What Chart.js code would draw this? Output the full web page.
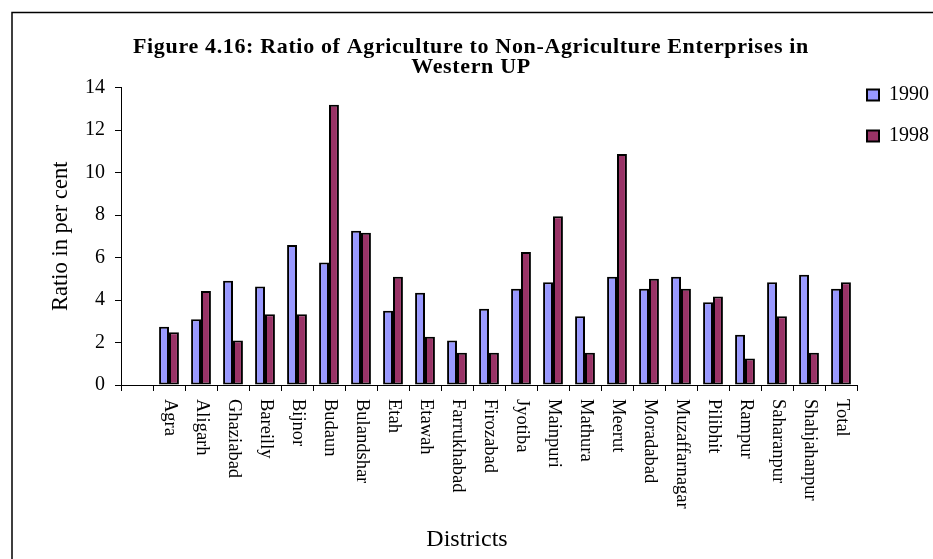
<!DOCTYPE html>
<html>
<head>
<meta charset="utf-8">
<script src="https://cdn.jsdelivr.net/npm/chart.js@4.4.0/dist/chart.umd.min.js"></script>
<style>
  html, body { margin: 0; padding: 0; background: #fff; overflow: hidden; }
  #wrap { position: relative; width: 933px; height: 559px; }
</style>
</head>
<body>
<div id="wrap"><canvas id="c" width="933" height="559"></canvas></div>
<script>
const districts = ['', 'Agra', 'Aligarh', 'Ghaziabad', 'Bareilly', 'Bijnor', 'Budaun', 'Bulandshar', 'Etah', 'Etawah', 'Farrukhabad', 'Firozabad', 'Jyotiba', 'Mainpuri', 'Mathura', 'Meerut', 'Moradabad', 'Muzaffarnagar', 'Pilibhit', 'Rampur', 'Saharanpur', 'Shahjahanpur', 'Total'];
const ratio1990 = [null, 2.74, 3.10, 4.91, 4.64, 6.59, 5.76, 7.26, 3.50, 4.34, 2.09, 3.59, 4.53, 4.83, 3.23, 5.10, 4.53, 5.10, 3.90, 2.37, 4.83, 5.19, 4.53];
const ratio1998 = [null, 2.48, 4.42, 2.09, 3.33, 3.33, 13.19, 7.17, 5.10, 2.27, 1.52, 1.52, 6.26, 7.94, 1.52, 10.87, 5.00, 4.53, 4.17, 1.25, 3.23, 1.52, 4.83];
const seriesNames = ['1990', '1998'];
const yTicks = [0, 2, 4, 6, 8, 10, 12, 14];
const titleLines = ['Figure 4.16: Ratio of Agriculture to Non-Agriculture Enterprises in', 'Western UP'];
const xTitle = 'Districts';
const yTitle = 'Ratio in per cent';

const FONT = "'Liberation Serif', 'Times New Roman', serif";
Chart.defaults.font.family = FONT;
Chart.defaults.color = '#000';

const framePlugin = {
  id: 'frame',
  beforeDraw(chart) {
    const ctx = chart.ctx;
    ctx.save();
    ctx.fillStyle = '#fff';
    ctx.fillRect(0, 0, chart.width, chart.height);
    ctx.strokeStyle = '#000';
    ctx.lineWidth = 1.5;
    ctx.strokeRect(12, 12.5, 1200, 1200);
    // title
    ctx.fillStyle = '#000';
    ctx.font = "bold 22px " + FONT;
    if ('letterSpacing' in ctx) ctx.letterSpacing = '0.65px';
    ctx.textAlign = 'center';
    ctx.textBaseline = 'middle';
    ctx.fillText(titleLines[0], 471, 47);
    ctx.fillText(titleLines[1], 471, 67);
    ctx.restore();
  }
};

const legendMove = {
  id: 'legendMove',
  afterLayout(chart) {
    const lg = chart.legend;
    lg.left = 846; lg.width = 140; lg.right = lg.left + lg.width;
    const h = lg.height;
    lg.top = 64; lg.bottom = lg.top + h;
  }
};

const xLabels = {
  id: 'xLabels',
  afterDraw(chart) {
    const ctx = chart.ctx;
    const xs = chart.scales.x;
    ctx.save();
    ctx.fillStyle = '#000';
    ctx.font = "18.5px " + FONT;
    ctx.textAlign = 'left';
    ctx.textBaseline = 'middle';
    districts.forEach((name, i) => {
      if (!name) return;
      const x = xs.getPixelForValue(i);
      ctx.save();
      ctx.translate(x + 1, xs.top + 14);
      ctx.rotate(Math.PI / 2);
      ctx.fillText(name, 0, 0);
      ctx.restore();
    });
    ctx.font = "24px " + FONT;
    ctx.textAlign = 'center';
    ctx.textBaseline = 'middle';
    ctx.fillText(xTitle, 467, 540);
    ctx.restore();
  }
};

new Chart(document.getElementById('c'), {
  type: 'bar',
  data: {
    labels: districts,
    datasets: [
      { label: seriesNames[0], data: ratio1990, backgroundColor: '#9999FF', borderColor: '#000', borderWidth: 2, borderSkipped: false },
      { label: seriesNames[1], data: ratio1998, backgroundColor: '#993366', borderColor: '#000', borderWidth: 2, borderSkipped: false }
    ]
  },
  options: {
    responsive: false,
    animation: false,
    devicePixelRatio: 1,
    layout: { padding: { left: 0, right: 0, top: 87.5, bottom: 0 } },
    datasets: { bar: { categoryPercentage: 0.62, barPercentage: 1.0 } },
    plugins: {
      title: { display: false },
      legend: {
        position: 'right',
        align: 'start',
        maxWidth: 76,
        labels: {
          font: { size: 20, family: FONT },
          color: '#000',
          boxWidth: 12,
          boxHeight: 11,
          padding: 21
        }
      },
      tooltip: { enabled: false }
    },
    scales: {
      x: {
        type: 'category',
        offset: true,
        grid: { display: true, offset: true, drawOnChartArea: false, drawTicks: true, tickLength: 6, color: '#000', tickColor: '#000', lineWidth: 1 },
        border: { display: true, color: '#000', width: 1 },
        ticks: { display: false },
        title: { display: false },
        afterFit(scale) { scale.height = 174; }
      },
      y: {
        min: 0,
        max: 14,
        afterBuildTicks(scale) { scale.ticks = yTicks.map(v => ({ value: v })); },
        grid: { display: true, drawOnChartArea: false, drawTicks: true, tickLength: 6, color: '#000', tickColor: '#000' },
        border: { display: true, color: '#000', width: 1 },
        ticks: { font: { size: 20, family: FONT }, color: '#000', padding: 10 },
        title: { display: true, text: yTitle, font: { size: 22.5, family: FONT }, color: '#000', padding: { top: 48, bottom: 0 } },
        afterFit(scale) { scale.width = 121; }
      }
    }
  },
  plugins: [framePlugin, legendMove, xLabels]
});
</script>
</body>
</html>
